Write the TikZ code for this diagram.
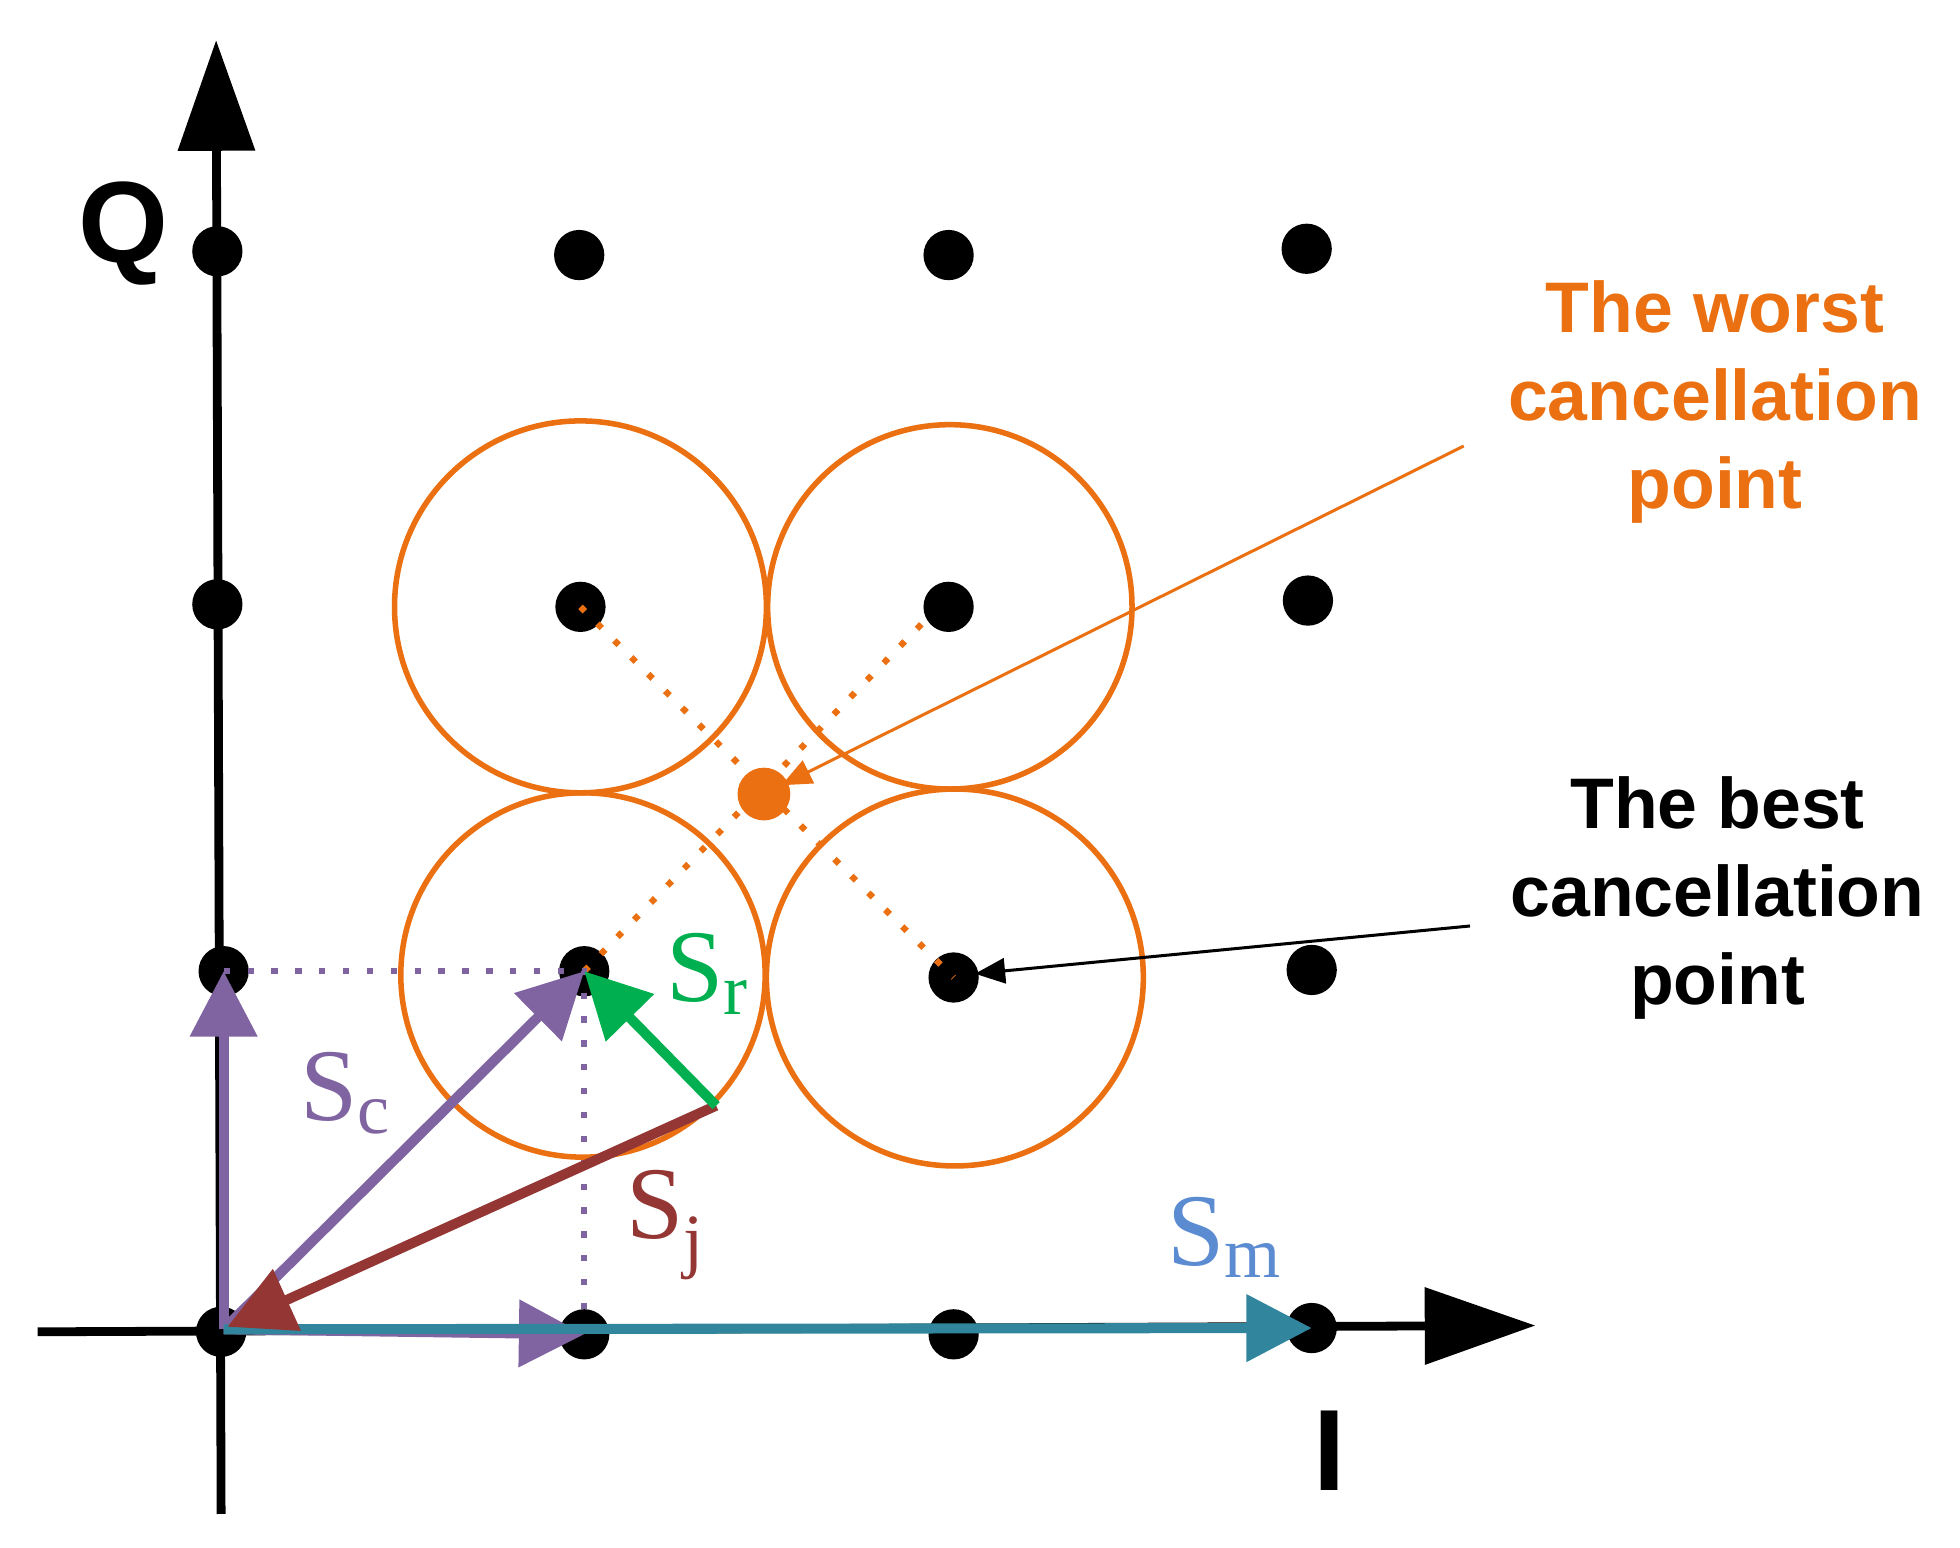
\documentclass[tikz,border=0pt]{standalone}
\usepackage{fontspec}
\setmainfont{Liberation Serif}
\newfontfamily\lab{Liberation Sans}
\usetikzlibrary{arrows.meta}
\definecolor{pur}{HTML}{8064A2}
\definecolor{brn}{HTML}{943634}
\definecolor{grn}{HTML}{00B050}
\definecolor{tea}{HTML}{31859C}
\definecolor{blu}{HTML}{5B8BD0}
\definecolor{org}{HTML}{EB7012}
\begin{document}
\begin{tikzpicture}[x=0.5pt,y=-0.5pt,
  dot/.style={circle,fill=black,inner sep=0,minimum size=20pt},
  ring/.style={draw=org,line width=2.2pt},
  vec/.style={line width=4pt,-{Triangle[length=26pt,width=26pt]}},
  sparse/.style={line width=2.5pt,dash pattern=on 2.5pt off 7pt},
  txt/.style={font=\lab\bfseries\fontsize{28.5}{35}\selectfont,align=center},
  sub/.style={font=\fontsize{41}{41}\selectfont}]
\useasboundingbox (0,0) rectangle (1560,1232);
% axes
\coordinate (ybot) at (176,1205); \coordinate (ytop) at (172,32);
\coordinate (xl) at (30,1060); \coordinate (xr) at (1222,1055);
\draw[line width=3.5pt,-{Triangle[length=44pt,width=30pt]}] (ybot) -- (ytop);
\draw[line width=3.5pt,-{Triangle[length=44pt,width=30pt]}] (xl) -- (xr);
\node[font=\lab\bfseries\fontsize{46}{46}\selectfont] (Q) at (98,186) {Q};
\node[font=\lab\bfseries\fontsize{46}{46}\selectfont] (I) at (1058,1155) {I};
% circles
\node[ring,circle,minimum size=148pt] (c1) at (462,483) {};
\node[ring,circle,minimum size=145pt] (c2) at (756,483) {};
\node[ring,circle,minimum size=145pt] (c3) at (464,776) {};
\node[ring,circle,minimum size=150pt] (c4) at (760,778) {};
% dots
\foreach \n/\x/\y in {a3/173/200,b3/461/203,c3d/755/203,d3/1040/198,
  a2/173/481,b2/462/483,c2d/755/483,d2/1041/478,
  a1/178/773,b1/465/773,c1d/759/778,d1/1044/772,
  a0/176/1060,b0/465/1062,c0/759/1062,d0/1044/1057}
  \node[dot] (\n) at (\x,\y) {};
% dotted lines
\draw[org,sparse] (b2.center) -- (c1d.center);
\draw[org,sparse] (b1.center) -- (740,490);
\draw[pur,sparse] (a1.center) -- (b1.center) -- (b0.center);
% worst point
\node[circle,fill=org,inner sep=0,minimum size=21pt] (w) at (608,632) {};
% annotations
\node[txt,text=org] (tw) at (1365,320) {The worst\\cancellation\\point};
\node[txt] (tb) at (1367,715) {The best\\cancellation\\point};
\coordinate (wa) at (1165,355); \coordinate (ba) at (1170,737);
\draw[org,line width=1.2pt,-{Triangle[length=12pt,width=10pt]}] (wa) -- (622,625);
\draw[line width=1.2pt,-{Triangle[length=12pt,width=10pt]}] (ba) -- (776,775);
% vectors
\coordinate (o) at (178,1058);
\coordinate (jr) at (570,880);
\draw[vec,pur] (o) -- (a1.center);
\draw[vec,pur] (o) -- (b1.center);
\draw[vec,pur] (o) -- (b0.center);
\draw[vec,tea] (o) -- (d0.center);
\draw[vec,brn] (jr) -- (181,1056);
\draw[vec,grn] (jr) -- (b1.center);
% labels
\node[sub,text=pur] (Sc) at (275,870) {S\textsubscript{c}};
\node[sub,text=grn] (Sr) at (563,775) {S\textsubscript{r}};
\node[sub,text=brn] (Sj) at (530,975) {S\textsubscript{j}};
\node[sub,text=blu] (Sm) at (975,985) {S\textsubscript{m}};
\end{tikzpicture}
\end{document}
